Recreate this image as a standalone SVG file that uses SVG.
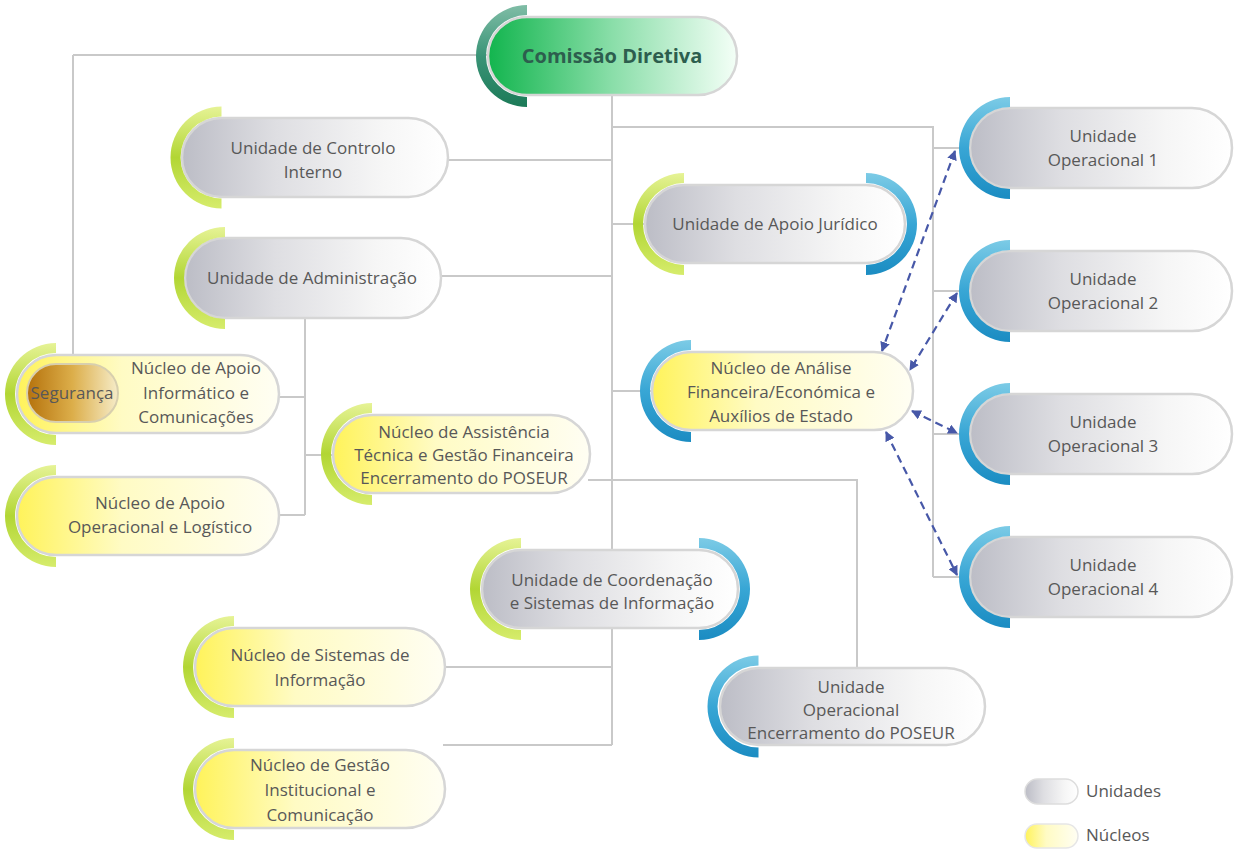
<svg xmlns="http://www.w3.org/2000/svg" width="1234" height="854" viewBox="0 0 1234 854">
  <defs>
    <linearGradient id="fillUnit" x1="0" y1="0" x2="1" y2="0">
      <stop offset="0" stop-color="#bcbdc6"/>
      <stop offset="0.35" stop-color="#dedee2"/>
      <stop offset="0.75" stop-color="#f6f6f6"/>
      <stop offset="1" stop-color="#ffffff"/>
    </linearGradient>
    <linearGradient id="fillCore" x1="0" y1="0" x2="1" y2="0">
      <stop offset="0" stop-color="#fff35a"/>
      <stop offset="0.4" stop-color="#fffbc4"/>
      <stop offset="1" stop-color="#fffef3"/>
    </linearGradient>
    <linearGradient id="fillBoard" x1="0" y1="0" x2="1" y2="0">
      <stop offset="0" stop-color="#12b54e"/>
      <stop offset="0.5" stop-color="#8adea9"/>
      <stop offset="1" stop-color="#f4fff7"/>
    </linearGradient>
    <linearGradient id="fillGold" x1="0" y1="0" x2="1" y2="0">
      <stop offset="0" stop-color="#b5720c"/>
      <stop offset="0.5" stop-color="#dcae4a"/>
      <stop offset="1" stop-color="#f6ecc8"/>
    </linearGradient>
    <linearGradient id="arcGreen" x1="0" y1="0" x2="0" y2="1">
      <stop offset="0" stop-color="#e6f396"/>
      <stop offset="0.5" stop-color="#b2d634"/>
      <stop offset="1" stop-color="#d6ec6c"/>
    </linearGradient>
    <linearGradient id="arcBlue" x1="0" y1="0" x2="0" y2="1">
      <stop offset="0" stop-color="#7ccbe6"/>
      <stop offset="0.5" stop-color="#38a6d5"/>
      <stop offset="1" stop-color="#1b8cc2"/>
    </linearGradient>
    <linearGradient id="arcTeal" x1="0" y1="0" x2="0" y2="1">
      <stop offset="0" stop-color="#80bda6"/>
      <stop offset="0.5" stop-color="#3a9477"/>
      <stop offset="1" stop-color="#1c7a58"/>
    </linearGradient>
    <marker id="head" viewBox="0 0 10 10" refX="9" refY="5" markerWidth="4.5" markerHeight="4.5" orient="auto-start-reverse" markerUnits="strokeWidth">
      <path d="M0 0 L10 5 L0 10 Z" fill="#4758a8"/>
    </marker>
    <style>
      .link { fill: none; stroke: #c9c9c9; stroke-width: 2; }
      .dash { fill: none; stroke: #4758a8; stroke-width: 2.2; stroke-dasharray: 8 5; marker-start: url(#head); marker-end: url(#head); }
      .pill { stroke: #d6d6d6; stroke-width: 2.5; }
      .unit { fill: url(#fillUnit); }
      .core { fill: url(#fillCore); }
      .arc-g { fill: url(#arcGreen); }
      .arc-b { fill: url(#arcBlue); }
      .arc-t { fill: url(#arcTeal); }
      text { font-family: "Open Sans", "DejaVu Sans", sans-serif; font-size: 17px; fill: #585858; text-anchor: middle; }
      .title { font-size: 20px; font-weight: bold; fill: #2d5e4e; }
      .legend { text-anchor: start; font-size: 17px; }
    </style>
  </defs>

  <!-- connectors -->
  <g id="connectors">
    <path class="link" d="M73 55 H490 M73 55 V366"/>
    <path class="link" d="M612 95 V745"/>
    <path class="link" d="M612 127 H933 V577 M933 148 H965 M933 291 H965 M933 434 H965 M933 577 H965"/>
    <path class="link" d="M446 160 H612"/>
    <path class="link" d="M612 224 H648"/>
    <path class="link" d="M439 276 H612"/>
    <path class="link" d="M612 391 H655"/>
    <path class="link" d="M588 480 H857 V670"/>
    <path class="link" d="M443 667 H612 M443 745 H612"/>
    <path class="link" d="M305 318 V515 M277 397 H305 M305 455 H336 M277 515 H305"/>
    <path class="dash" d="M955 151 L882 351"/>
    <path class="dash" d="M957 293 L910 370"/>
    <path class="dash" d="M912 411 L957 433"/>
    <path class="dash" d="M886 432 L957 575"/>
  </g>

  <!-- Comissão Diretiva -->
  <g id="comissao-diretiva">
    <rect class="pill" x="488" y="17" width="249" height="78" rx="39" fill="url(#fillBoard)"/>
    <path class="arc-t" d="M527 5 A51 51 0 0 0 527 107 L527 97 A41 41 0 0 1 527 15 Z"/>
    <text class="title" x="612" y="63">Comissão Diretiva</text>
  </g>

  <!-- Unidade de Controlo Interno -->
  <g id="unidade-controlo-interno">
    <rect class="pill unit" x="182" y="118" width="266" height="79" rx="39.5"/>
    <path class="arc-g" d="M221.5 106.5 A51 51 0 0 0 221.5 208.5 L221.5 198.5 A41 41 0 0 1 221.5 116.5 Z"/>
    <text x="313" y="154">Unidade de Controlo</text>
    <text x="313" y="178">Interno</text>
  </g>

  <!-- Unidade de Administração -->
  <g id="unidade-administracao">
    <rect class="pill unit" x="185" y="238" width="256" height="80" rx="40"/>
    <path class="arc-g" d="M225 227 A51 51 0 0 0 225 329 L225 319 A41 41 0 0 1 225 237 Z"/>
    <text x="312" y="284">Unidade de Administração</text>
  </g>

  <!-- Unidade de Apoio Jurídico -->
  <g id="unidade-apoio-juridico">
    <rect class="pill unit" x="645" y="185" width="260" height="78" rx="39"/>
    <path class="arc-g" d="M684 173 A51 51 0 0 0 684 275 L684 265 A41 41 0 0 1 684 183 Z"/>
    <path class="arc-b" d="M866 173 A51 51 0 0 1 866 275 L866 265 A41 41 0 0 0 866 183 Z"/>
    <text x="775" y="230">Unidade de Apoio Jurídico</text>
  </g>

  <!-- Núcleo de Análise Financeira/Económica e Auxílios de Estado -->
  <g id="nucleo-analise-financeira">
    <rect class="pill core" x="652" y="352" width="261" height="78" rx="39"/>
    <path class="arc-b" d="M691 340 A51 51 0 0 0 691 442 L691 432 A41 41 0 0 1 691 350 Z"/>
    <text x="781" y="374">Núcleo de Análise</text>
    <text x="781" y="398">Financeira/Económica e</text>
    <text x="781" y="422">Auxílios de Estado</text>
  </g>

  <!-- Unidades Operacionais 1-4 -->
  <g id="unidade-operacional-1">
    <rect class="pill unit" x="970" y="108" width="262" height="80" rx="40"/>
    <path class="arc-b" d="M1010 97 A51 51 0 0 0 1010 199 L1010 189 A41 41 0 0 1 1010 107 Z"/>
    <text x="1103" y="142">Unidade</text>
    <text x="1103" y="166">Operacional 1</text>
  </g>
  <g id="unidade-operacional-2">
    <rect class="pill unit" x="970" y="251" width="262" height="80" rx="40"/>
    <path class="arc-b" d="M1010 240 A51 51 0 0 0 1010 342 L1010 332 A41 41 0 0 1 1010 250 Z"/>
    <text x="1103" y="285">Unidade</text>
    <text x="1103" y="309">Operacional 2</text>
  </g>
  <g id="unidade-operacional-3">
    <rect class="pill unit" x="970" y="394" width="262" height="80" rx="40"/>
    <path class="arc-b" d="M1010 383 A51 51 0 0 0 1010 485 L1010 475 A41 41 0 0 1 1010 393 Z"/>
    <text x="1103" y="428">Unidade</text>
    <text x="1103" y="452">Operacional 3</text>
  </g>
  <g id="unidade-operacional-4">
    <rect class="pill unit" x="970" y="537" width="262" height="80" rx="40"/>
    <path class="arc-b" d="M1010 526 A51 51 0 0 0 1010 628 L1010 618 A41 41 0 0 1 1010 536 Z"/>
    <text x="1103" y="571">Unidade</text>
    <text x="1103" y="595">Operacional 4</text>
  </g>

  <!-- Núcleo de Apoio Informático e Comunicações, with Segurança -->
  <g id="nucleo-apoio-informatico">
    <rect class="pill core" x="17" y="355" width="262" height="78" rx="39"/>
    <path class="arc-g" d="M56 343 A51 51 0 0 0 56 445 L56 435 A41 41 0 0 1 56 353 Z"/>
    <text x="196" y="374">Núcleo de Apoio</text>
    <text x="196" y="399">Informático e</text>
    <text x="196" y="423">Comunicações</text>
  </g>
  <g id="seguranca">
    <rect x="27" y="364" width="91" height="58" rx="29" fill="url(#fillGold)" stroke="#d8cfae" stroke-width="2"/>
    <text x="72" y="399" fill="#4a4030">Segurança</text>
  </g>

  <!-- Núcleo de Assistência Técnica e Gestão Financeira Encerramento do POSEUR -->
  <g id="nucleo-assistencia-tecnica">
    <rect class="pill core" x="333" y="415" width="257" height="78" rx="39"/>
    <path class="arc-g" d="M372 403 A51 51 0 0 0 372 505 L372 495 A41 41 0 0 1 372 413 Z"/>
    <text x="464" y="438">Núcleo de Assistência</text>
    <text x="464" y="461">Técnica e Gestão Financeira</text>
    <text x="464" y="484">Encerramento do POSEUR</text>
  </g>

  <!-- Núcleo de Apoio Operacional e Logístico -->
  <g id="nucleo-apoio-operacional">
    <rect class="pill core" x="17" y="477" width="262" height="78" rx="39"/>
    <path class="arc-g" d="M56 465 A51 51 0 0 0 56 567 L56 557 A41 41 0 0 1 56 475 Z"/>
    <text x="160" y="509">Núcleo de Apoio</text>
    <text x="160" y="533">Operacional e Logístico</text>
  </g>

  <!-- Unidade de Coordenação e Sistemas de Informação -->
  <g id="unidade-coordenacao">
    <rect class="pill unit" x="482" y="550" width="256" height="78" rx="39"/>
    <path class="arc-g" d="M521 538 A51 51 0 0 0 521 640 L521 630 A41 41 0 0 1 521 548 Z"/>
    <path class="arc-b" d="M699 538 A51 51 0 0 1 699 640 L699 630 A41 41 0 0 0 699 548 Z"/>
    <text x="612" y="586">Unidade de Coordenação</text>
    <text x="612" y="609">e Sistemas de Informação</text>
  </g>

  <!-- Núcleo de Sistemas de Informação -->
  <g id="nucleo-sistemas-informacao">
    <rect class="pill core" x="195" y="628" width="250" height="78" rx="39"/>
    <path class="arc-g" d="M234 616 A51 51 0 0 0 234 718 L234 708 A41 41 0 0 1 234 626 Z"/>
    <text x="320" y="661">Núcleo de Sistemas de</text>
    <text x="320" y="686">Informação</text>
  </g>

  <!-- Núcleo de Gestão Institucional e Comunicação -->
  <g id="nucleo-gestao-institucional">
    <rect class="pill core" x="195" y="750" width="250" height="78" rx="39"/>
    <path class="arc-g" d="M234 738 A51 51 0 0 0 234 840 L234 830 A41 41 0 0 1 234 748 Z"/>
    <text x="320" y="771">Núcleo de Gestão</text>
    <text x="320" y="796">Institucional e</text>
    <text x="320" y="821">Comunicação</text>
  </g>

  <!-- Unidade Operacional Encerramento do POSEUR -->
  <g id="unidade-operacional-encerramento">
    <rect class="pill unit" x="720" y="668" width="265" height="77" rx="38.5"/>
    <path class="arc-b" d="M758.5 655.5 A51 51 0 0 0 758.5 757.5 L758.5 747.5 A41 41 0 0 1 758.5 665.5 Z"/>
    <text x="851" y="693">Unidade</text>
    <text x="851" y="716">Operacional</text>
    <text x="851" y="739">Encerramento do POSEUR</text>
  </g>

  <!-- legend -->
  <g id="legend">
    <rect x="1025" y="779" width="53" height="25" rx="12.5" fill="url(#fillUnit)" stroke="#dddddd" stroke-width="1.5"/>
    <text class="legend" x="1086" y="797">Unidades</text>
    <rect x="1025" y="824" width="53" height="24" rx="12" fill="url(#fillCore)" stroke="#e6e6e6" stroke-width="1.5"/>
    <text class="legend" x="1086" y="841">Núcleos</text>
  </g>
</svg>
